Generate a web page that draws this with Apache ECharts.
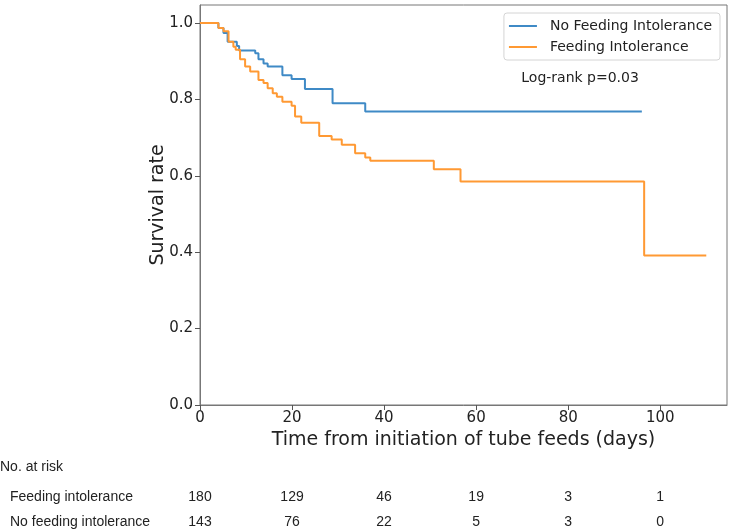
<!DOCTYPE html>
<html>
<head>
<meta charset="utf-8">
<script src="https://cdn.jsdelivr.net/npm/echarts@6/dist/echarts.min.js"></script>
<style>
  html, body { margin: 0; padding: 0; background: #fff; }
  #main { width: 733px; height: 532px; }
</style>
</head>
<body>
<div id="main"></div>
<script>
// step times (days) and survival
const noFiTimes = [0, 4, 5.1, 6.0, 8.0, 8.5, 12, 12.7, 13.8, 14.7, 17.9, 19.9, 22.8, 28.8, 35.9, 96];
const noFiSurv  = [1.0, 0.987, 0.974, 0.951, 0.94, 0.928, 0.921, 0.905, 0.894, 0.886, 0.863, 0.853, 0.827, 0.79, 0.768, 0.768];

const fiTimes = [0, 4, 5.1, 6.2, 7.25, 7.75, 8.7, 9.8, 10.9, 12.7, 13.8, 14.7, 15.8, 16.7, 17.9, 19.9, 20.65, 22, 25.9, 28.6, 30.8, 33.7, 35.9, 37, 50.8, 56.6, 96.5, 110];
const fiSurv  = [1.0, 0.987, 0.978, 0.951, 0.938, 0.93, 0.905, 0.886, 0.873, 0.851, 0.843, 0.829, 0.816, 0.807, 0.794, 0.783, 0.755, 0.739, 0.704, 0.695, 0.681, 0.659, 0.648, 0.639, 0.617, 0.585, 0.391, 0.391];

const xTicks = [0, 20, 40, 60, 80, 100];
const yTicks = [0, 0.2, 0.4, 0.6, 0.8, 1.0];

// number at risk table
const riskTimes = [0, 20, 40, 60, 80, 100];
const riskFi   = [180, 129, 46, 19, 3, 1];
const riskNoFi = [143, 76, 22, 5, 3, 0];

const blue = '#3f8ac6';
const orange = '#ff9933';
const axisFont = 'DejaVu Sans';

const pair = (xs, ys) => xs.map((x, i) => [x, ys[i]]);

let chart = echarts.init(document.getElementById('main'));

chart.setOption({
  animation: false,
  grid: {
    left: 200, right: 6, top: 5, bottom: 127,
    show: true, borderColor: '#777', borderWidth: 1
  },
  legend: {
    orient: 'vertical',
    right: 13, top: 13,
    itemWidth: 28, itemHeight: 2, itemGap: 7,
    icon: 'rect',
    padding: [6, 8, 6, 5],
    backgroundColor: '#fff',
    borderColor: '#d4d4d4', borderWidth: 1, borderRadius: 3,
    textStyle: { fontFamily: axisFont, fontSize: 14, color: '#222', padding: [0, 0, 0, 8] },
    data: ['No Feeding Intolerance', 'Feeding Intolerance']
  },
  xAxis: {
    type: 'value', min: 0, max: 114.5,
    name: 'Time from initiation of tube feeds (days)',
    nameLocation: 'middle', nameGap: 25,
    nameTextStyle: { fontFamily: axisFont, fontSize: 19, color: '#222' },
    splitLine: { show: false },
    axisLine: { lineStyle: { color: '#777' } },
    axisTick: { length: 5, lineStyle: { color: '#555' }, customValues: xTicks },
    axisLabel: { fontFamily: axisFont, fontSize: 15, color: '#222', margin: 6, customValues: xTicks }
  },
  yAxis: {
    type: 'value', min: 0, max: 1.047,
    name: 'Survival rate',
    nameLocation: 'middle', nameGap: 32, nameMoveOverlap: false,
    nameTextStyle: { fontFamily: axisFont, fontSize: 19, color: '#222' },
    splitLine: { show: false },
    axisLine: { show: true, lineStyle: { color: '#777' } },
    axisTick: { show: true, length: 5, lineStyle: { color: '#555' }, customValues: yTicks },
    axisLabel: { fontFamily: axisFont, fontSize: 15, color: '#222', margin: 7,
                 customValues: yTicks, formatter: v => v.toFixed(1) }
  },
  series: [
    {
      name: 'No Feeding Intolerance', type: 'line', step: 'end',
      symbol: 'none', color: blue, lineStyle: { width: 2 },
      data: pair(noFiTimes, noFiSurv)
    },
    {
      name: 'Feeding Intolerance', type: 'line', step: 'end',
      symbol: 'none', color: orange, lineStyle: { width: 2 },
      data: pair(fiTimes, fiSurv)
    }
  ]
});

// annotation and risk table, placed through the axis scales
const px = t => chart.convertToPixel({ xAxisIndex: 0 }, t);
const py = v => chart.convertToPixel({ yAxisIndex: 0 }, v);
const tableFont = '14px "Liberation Sans"';

let graphics = [
  { type: 'text', x: px(69.8), y: py(0.855), style: { text: 'Log-rank p=0.03', font: '14px "DejaVu Sans"', fill: '#222', verticalAlign: 'middle' } },
  { type: 'text', x: 0, y: 467, style: { text: 'No. at risk', font: tableFont, fill: '#222', verticalAlign: 'middle' } },
  { type: 'text', x: 10, y: 497, style: { text: 'Feeding intolerance', font: tableFont, fill: '#222', verticalAlign: 'middle' } },
  { type: 'text', x: 10, y: 522, style: { text: 'No feeding intolerance', font: tableFont, fill: '#222', verticalAlign: 'middle' } }
];
riskTimes.forEach((t, i) => {
  graphics.push({ type: 'text', x: px(t), y: 497, style: { text: String(riskFi[i]), font: tableFont, fill: '#222', align: 'center', verticalAlign: 'middle' } });
  graphics.push({ type: 'text', x: px(t), y: 522, style: { text: String(riskNoFi[i]), font: tableFont, fill: '#222', align: 'center', verticalAlign: 'middle' } });
});
chart.setOption({ graphic: graphics });
</script>
</body>
</html>
